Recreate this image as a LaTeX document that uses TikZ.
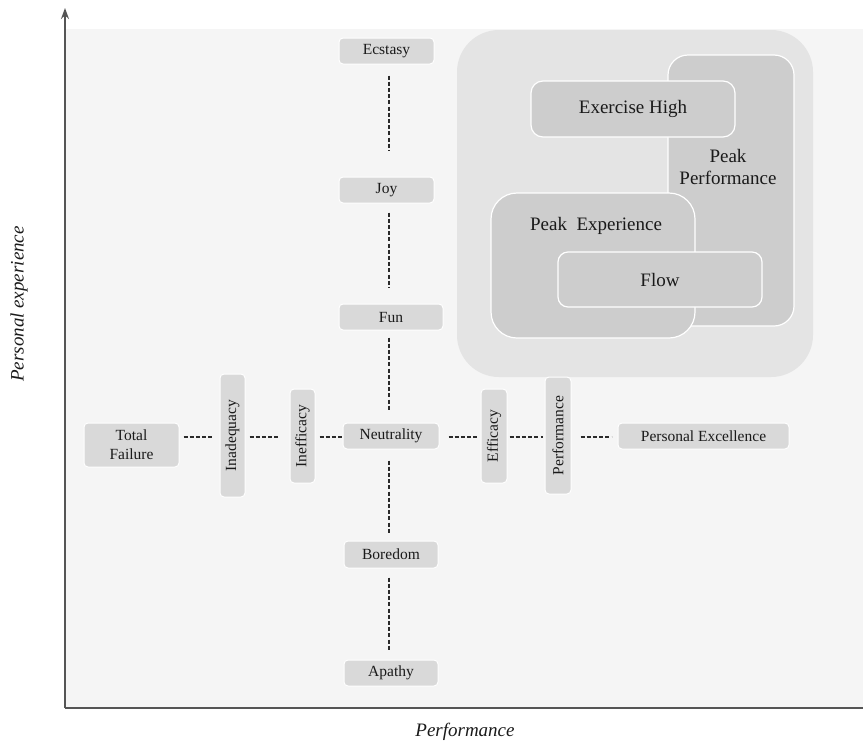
\documentclass[tikz,border=0pt]{standalone}
\usepackage{fontspec}
\setmainfont{Liberation Serif}
\usetikzlibrary{arrows.meta}
\definecolor{bgc}{HTML}{F5F5F5}
\definecolor{boxc}{HTML}{D9D9D9}
\definecolor{outerc}{HTML}{E4E4E4}
\definecolor{innerc}{HTML}{CDCDCD}
\definecolor{axisc}{HTML}{555555}
\definecolor{dashc}{HTML}{2A2A2A}
\definecolor{txtc}{HTML}{1A1A1A}
\tikzset{
  smallbox/.style={fill=boxc, draw=white, line width=1pt, rounded corners=4pt, inner sep=0pt,
    text=txtc, font=\fontsize{15.5}{19}\selectfont, align=center},
  bigbox/.style={fill=innerc, draw=white, line width=1.2pt, inner sep=0pt},
  biglabel/.style={text=txtc, font=\fontsize{19}{22}\selectfont, align=center, inner sep=0pt},
  link/.style={draw=dashc, line width=1.3pt, dash pattern=on 4pt off 2.2pt},
  axislabel/.style={text=txtc, font=\fontsize{19}{22}\selectfont\itshape, inner sep=0pt}
}
\begin{document}
\begin{tikzpicture}[x=1pt,y=-1pt]
\useasboundingbox (0,0) rectangle (863,742);
\fill[bgc] (66,29) rectangle (863,708);
% axes
\coordinate (origin) at (65,708);
\coordinate (ytop) at (65,8);
\coordinate (xend) at (863,708);
\draw[axisc, line width=1.3pt, -{Stealth[length=11pt,width=8pt]}] (origin) -- (ytop);
\draw[axisc, line width=1.3pt] (origin) -- (xend);
\node[axislabel] (xlab) at (465,732) {Performance};
\node[axislabel, rotate=90] (ylab) at (19,304) {Personal experience};
% big region
\node[fill=outerc, rounded corners=42pt, minimum width=356pt, minimum height=347pt, inner sep=0pt] (outer) at (635,203.5) {};
\node[bigbox, rounded corners=20pt, minimum width=126pt, minimum height=271pt] (pp) at (731,190.5) {};
\node[biglabel] (pptext) at (728,167) {Peak\\Performance};
\node[bigbox, rounded corners=12pt, minimum width=204pt, minimum height=56pt] (eh) at (633,109) {};
\node[biglabel] (ehtext) at (633,109) {Exercise High};
\node[bigbox, rounded corners=26pt, minimum width=204pt, minimum height=145pt] (pe) at (593,265.5) {};
\node[biglabel] (petext) at (596,226) {Peak\ \ Experience};
\node[bigbox, rounded corners=10pt, minimum width=204pt, minimum height=55pt] (flow) at (660,279.5) {};
\node[biglabel] (flowtext) at (660,279.5) {Flow};
% vertical column
\node[smallbox, minimum width=95pt, minimum height=26pt] (ecstasy) at (386.5,51) {Ecstasy};
\node[smallbox, minimum width=95pt, minimum height=26pt] (joy) at (386.5,190) {Joy};
\node[smallbox, minimum width=104pt, minimum height=26pt] (fun) at (391,317) {Fun};
\node[smallbox, minimum width=96pt, minimum height=26pt] (neut) at (391,436) {Neutrality};
\node[smallbox, minimum width=94pt, minimum height=27pt] (bored) at (391,554.5) {Boredom};
\node[smallbox, minimum width=94pt, minimum height=26pt] (apathy) at (391,673) {Apathy};
% horizontal row
\node[smallbox, minimum width=95pt, minimum height=44pt] (tf) at (131.5,445) {Total\\Failure};
\node[smallbox, minimum width=25pt, minimum height=123pt] (inad) at (232.5,435.5) {\rotatebox{90}{Inadequacy}};
\node[smallbox, minimum width=25pt, minimum height=94pt] (ineff) at (302.5,436) {\rotatebox{90}{Inefficacy}};
\node[smallbox, minimum width=26pt, minimum height=94pt] (eff) at (494,436) {\rotatebox{90}{Efficacy}};
\node[smallbox, minimum width=26pt, minimum height=117pt] (perf) at (558,435.5) {\rotatebox{90}{Performance}};
\node[smallbox, minimum width=171pt, minimum height=26pt] (pex) at (703.5,436) {Personal Excellence};
% connectors
\coordinate (col) at (389,0);
\coordinate (row) at (0,437);
\draw[link, shorten <=11pt, shorten >=26pt] (ecstasy.south -| col) -- (joy.north -| col);
\draw[link, shorten <=9pt, shorten >=16pt] (joy.south -| col) -- (fun.north -| col);
\draw[link, shorten <=7pt, shorten >=11pt] (fun.south -| col) -- (neut.north -| col);
\draw[link, shorten <=11pt, shorten >=6pt] (neut.south -| col) -- (bored.north -| col);
\draw[link, shorten <=9pt, shorten >=8pt] (bored.south -| col) -- (apathy.north -| col);
\draw[link, shorten <=4pt, shorten >=6pt] (tf.east |- row) -- (inad.west |- row);
\draw[link, shorten <=4pt, shorten >=10pt] (inad.east |- row) -- (ineff.west |- row);
\draw[link, shorten <=4pt, shorten >=1pt] (ineff.east |- row) -- (neut.west |- row);
\draw[link, shorten <=9pt, shorten >=2pt] (neut.east |- row) -- (eff.west |- row);
\draw[link, shorten <=2pt, shorten >=2pt] (eff.east |- row) -- (perf.west |- row);
\draw[link, shorten <=9pt, shorten >=6pt] (perf.east |- row) -- (pex.west |- row);
\end{tikzpicture}
\end{document}
